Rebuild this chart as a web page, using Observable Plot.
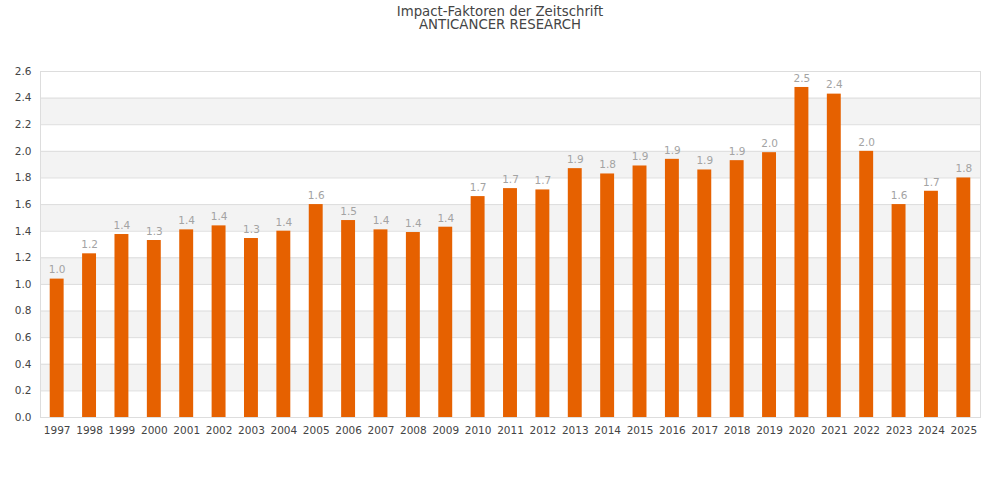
<!DOCTYPE html>
<html>
<head>
<meta charset="utf-8">
<script src="https://cdn.jsdelivr.net/npm/d3@7"></script>
<script src="https://cdn.jsdelivr.net/npm/@observablehq/plot@0.6"></script>
<style>
  body { margin: 0; background: #fff; font-family: "DejaVu Sans", sans-serif; }
  #title { height: 32px; box-sizing: border-box; padding-top: 5px; text-align: center; color: #444; font-size: 13.3px; line-height: 13px; }
</style>
</head>
<body>
<div id="title"><div>Impact-Faktoren der Zeitschrift</div><div>ANTICANCER RESEARCH</div></div>
<div id="chart"></div>
<script>
const years = ["1997","1998","1999","2000","2001","2002","2003","2004","2005","2006","2007","2008","2009","2010","2011","2012","2013","2014","2015","2016","2017","2018","2019","2020","2021","2022","2023","2024","2025"];
const values = [1.04,1.23,1.375,1.33,1.41,1.44,1.345,1.40,1.60,1.48,1.41,1.39,1.43,1.66,1.72,1.71,1.87,1.83,1.89,1.94,1.86,1.93,1.99,2.48,2.43,2.00,1.60,1.70,1.80];
const yTicks = [0,0.2,0.4,0.6,0.8,1.0,1.2,1.4,1.6,1.8,2.0,2.2,2.4,2.6];
const bandStarts = [0.2,0.6,1.0,1.4,1.8,2.2];
const bandWidth = 0.2;

const data = years.map((y, i) => ({year: y, value: values[i]}));
const bands = bandStarts.map(s => ({y1: s, y2: s + bandWidth}));

const chart = Plot.plot({
  width: 1000,
  height: 468,
  marginTop: 39,
  marginBottom: 83,
  marginLeft: 40,
  marginRight: 20,
  style: {fontFamily: "DejaVu Sans, sans-serif", fontSize: "10.5px", color: "#444", background: "#fff"},
  x: {domain: years, paddingInner: 0.57, paddingOuter: 0.3, round: false, label: null},
  y: {domain: [0, 2.6], label: null},
  marks: [
    Plot.rect(bands, {y1: "y1", y2: "y2", fill: "#f3f3f3"}),
    Plot.ruleY(yTicks, {stroke: "#dddddd"}),
    Plot.frame({stroke: "#dddddd"}),
    Plot.barY(data, {x: "year", y: "value", fill: "#e66100"}),
    Plot.text(data, {x: "year", y: "value", text: d => d.value.toFixed(1), dy: -9, fill: "#a3a3a3", fontSize: 10.5}),
    Plot.axisX({tickSize: 0, tickPadding: 9, fill: "#444"}),
    Plot.axisY({ticks: yTicks, tickFormat: d => d.toFixed(1), tickSize: 0, tickPadding: 9, fill: "#444"})
  ]
});
document.getElementById("chart").appendChild(chart);
</script>
</body>
</html>
